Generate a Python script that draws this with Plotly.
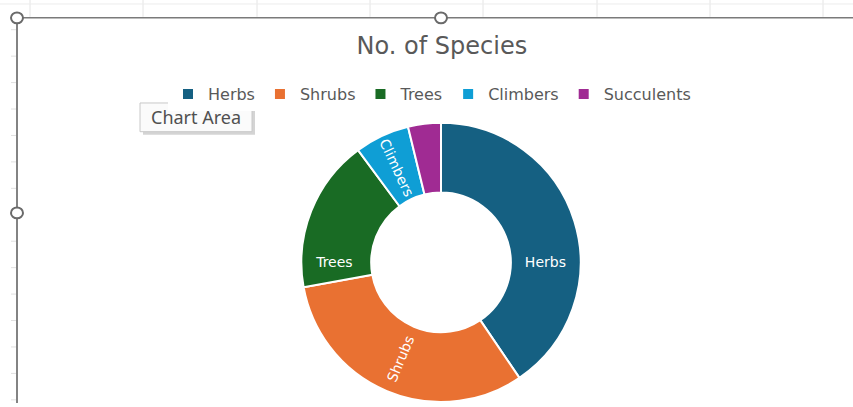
import plotly.graph_objects as go

# Species counts by plant type
categories = ["Herbs", "Shrubs", "Trees", "Climbers", "Succulents"]
species = [32, 25, 14, 5, 3]
colors = ["#156082", "#E97132", "#196B24", "#0F9ED5", "#A02B93"]

W, H = 853, 407
cx, cy, r = 441, 265, 141  # donut centre / radius in pixels

fig = go.Figure(
    go.Pie(
        labels=categories,
        values=species,
        hole=0.5,
        sort=False,
        direction="clockwise",
        rotation=0,
        marker=dict(colors=colors, line=dict(color="white", width=2)),
        textinfo="label",
        insidetextorientation="radial",
        textfont=dict(family="DejaVu Sans", size=14, color="white"),
        domain=dict(x=[(cx - r) / W, (cx + r) / W], y=[(H - cy - r) / H, (H - cy + r) / H]),
        hoverinfo="label+value+percent",
    )
)

# Spreadsheet frame around the embedded chart
shapes = []
grid_x = [30, 143, 257, 370, 483, 597, 710, 823]
for gx in grid_x:
    shapes.append(dict(type="line", xref="paper", yref="paper",
                       x0=gx / W, x1=gx / W, y0=1, y1=(H - 17) / H,
                       line=dict(color="#e4e4e4", width=1)))
shapes.append(dict(type="line", xref="paper", yref="paper", x0=0, x1=1,
                   y0=(H - 4) / H, y1=(H - 4) / H, line=dict(color="#ececec", width=1)))
for k in range(15):
    ty = 30 + k * 26.7
    shapes.append(dict(type="line", xref="paper", yref="paper",
                       x0=11 / W, x1=16 / W, y0=(H - ty) / H, y1=(H - ty) / H,
                       line=dict(color="#e0e0e0", width=1)))
# selection border
shapes.append(dict(type="line", xref="paper", yref="paper", x0=17 / W, x1=1,
                   y0=(H - 18) / H, y1=(H - 18) / H, line=dict(color="#7a7a7a", width=1.5)))
shapes.append(dict(type="line", xref="paper", yref="paper", x0=17 / W, x1=17 / W,
                   y0=0, y1=(H - 18) / H, line=dict(color="#5a5a5a", width=1.5)))
for hx, hy in [(17, 18), (441, 18), (17, 215)]:
    shapes.append(dict(type="circle", xref="paper", yref="paper",
                       x0=(hx - 6) / W, x1=(hx + 6) / W,
                       y0=(H - hy - 5.5) / H, y1=(H - hy + 5.5) / H,
                       fillcolor="white", line=dict(color="#6a6a6a", width=2)))

# "Chart Area" tooltip box with drop shadow
tip_x0, tip_x1, tip_y0, tip_y1 = 140, 252, 104, 133
shapes.append(dict(type="rect", xref="paper", yref="paper", layer="above",
                   x0=(tip_x0 + 3) / W, x1=(tip_x1 + 3) / W,
                   y0=(H - tip_y1 - 3) / H, y1=(H - tip_y0 - 3) / H,
                   fillcolor="#b8b8b8", line=dict(width=0), opacity=0.6))
shapes.append(dict(type="rect", xref="paper", yref="paper", layer="above",
                   x0=tip_x0 / W, x1=tip_x1 / W, y0=(H - tip_y1) / H, y1=(H - tip_y0) / H,
                   fillcolor="#fbfbfb", line=dict(color="#c8c8c8", width=1)))

fig.update_layout(
    width=W,
    height=H,
    margin=dict(l=0, r=0, t=0, b=0),
    paper_bgcolor="white",
    plot_bgcolor="white",
    title=dict(text="No. of Species", x=0.518, xanchor="center",
               y=(H - 46) / H, yanchor="middle",
               font=dict(family="DejaVu Sans", size=24, color="#595959")),
    legend=dict(orientation="h", x=168 / W, xanchor="left",
                y=(H - 95) / H, yanchor="middle",
                font=dict(family="DejaVu Sans", size=16, color="#595959"),
                itemwidth=30, traceorder="normal"),
    shapes=shapes,
    annotations=[dict(text="Chart Area", xref="paper", yref="paper",
                      xanchor="center", yanchor="middle",
                      x=(tip_x0 + tip_x1) / 2 / W, y=(H - (tip_y0 + tip_y1) / 2) / H,
                      showarrow=False,
                      font=dict(family="Noto Sans", size=18, color="#505050"))],
)

fig.write_html("out.html")
